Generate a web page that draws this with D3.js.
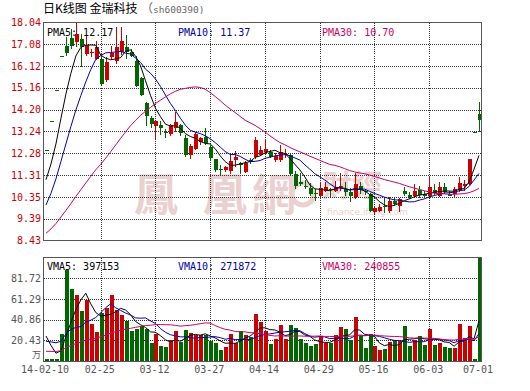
<!DOCTYPE html>
<html><head><meta charset="utf-8">
<script src="https://cdn.jsdelivr.net/npm/d3@7"></script>
<style>body{margin:0;background:#fff}svg{display:block}</style>
</head><body><svg id="c" width="530" height="391"></svg>
<script>
const dates = ["02-10","02-11","02-12","02-13","02-14","02-17","02-18","02-19","02-20","02-21","02-24","02-25","02-26","02-27","02-28","03-03","03-04","03-05","03-06","03-07","03-10","03-11","03-12","03-13","03-14","03-17","03-18","03-19","03-20","03-21","03-24","03-25","03-26","03-27","03-28","03-31","04-01","04-02","04-03","04-04","04-08","04-09","04-10","04-11","04-14","04-15","04-16","04-17","04-18","04-21","04-22","04-23","04-24","04-25","04-28","04-29","04-30","05-05","05-06","05-07","05-08","05-09","05-12","05-13","05-14","05-15","05-16","05-19","05-20","05-21","05-22","05-23","05-26","05-27","05-28","05-29","05-30","06-03","06-04","06-05","06-06","06-09","06-10","06-11","06-12","06-13","06-30","07-01"];
const open  = [12.44,13.68,15.05,16.55,17.02,17.35,17.18,17.30,16.64,16.70,16.42,16.45,15.51,16.50,16.35,16.72,16.94,16.72,16.35,15.60,14.51,13.85,13.47,13.50,13.22,13.13,13.40,13.50,12.95,12.18,12.48,12.76,12.98,12.54,12.03,11.58,11.52,11.50,11.96,11.86,11.47,12.00,12.10,12.20,12.32,12.32,11.96,11.97,12.18,12.18,11.37,11.00,10.85,10.75,10.51,10.41,10.60,10.68,10.60,10.78,10.72,10.57,10.34,10.85,10.62,10.49,9.68,9.75,9.96,9.71,10.19,9.97,10.63,10.44,10.38,10.66,10.50,10.37,10.66,10.40,10.78,10.50,10.49,10.66,10.82,10.93,13.23,14.02];
const high  = [12.44,13.68,15.05,16.55,17.38,17.75,18.04,17.52,17.45,16.86,17.23,16.64,16.50,17.00,17.84,17.84,17.50,16.86,16.56,15.62,14.54,13.90,13.75,13.68,13.35,13.55,14.09,13.55,13.06,12.68,13.20,13.00,13.40,12.65,12.03,11.74,11.70,12.25,12.38,11.90,11.93,12.05,12.99,12.60,12.92,12.40,12.30,12.62,12.45,12.30,11.50,11.40,11.10,10.95,10.70,11.00,11.00,10.75,11.05,11.40,11.00,10.75,11.40,11.00,10.72,10.53,9.95,10.05,10.30,10.33,10.30,10.30,10.78,10.55,10.90,10.85,10.60,11.21,10.90,11.00,10.95,10.62,10.78,11.24,11.10,12.03,13.23,14.53];
const low   = [12.44,13.68,15.05,16.55,16.57,16.85,16.95,16.09,16.57,16.50,16.38,15.25,15.43,16.40,16.20,16.60,16.45,16.50,15.20,14.80,13.49,13.38,12.91,13.09,12.96,13.05,13.20,13.05,12.10,12.03,12.40,12.65,12.65,12.00,11.45,11.33,11.45,11.37,11.66,11.34,11.40,11.80,12.03,12.15,12.25,12.05,11.90,11.87,12.05,11.30,10.70,10.85,10.70,10.40,10.15,10.38,10.55,10.35,10.55,10.60,10.40,10.11,10.26,10.49,10.45,9.67,9.62,9.70,9.65,9.64,9.95,9.69,10.40,10.28,10.33,10.30,10.35,10.30,10.45,10.35,10.50,10.38,10.30,10.55,10.60,10.89,13.23,13.23];
const close = [12.44,13.68,15.05,16.55,16.70,17.00,17.52,16.94,17.04,16.75,16.94,15.32,16.28,16.69,16.94,17.23,16.75,16.57,15.25,14.84,13.93,13.56,13.71,13.40,13.20,13.50,13.64,13.18,12.18,12.58,13.11,12.94,12.74,12.06,11.52,11.56,11.66,11.92,12.10,11.78,11.85,11.88,12.86,12.42,12.48,12.13,12.15,12.33,12.25,11.36,10.85,10.93,10.78,10.49,10.49,10.74,10.78,10.66,10.81,10.85,10.57,10.41,10.93,10.66,10.55,9.75,9.85,9.90,9.94,10.19,10.05,10.26,10.49,10.34,10.63,10.44,10.40,10.78,10.53,10.78,10.57,10.40,10.71,10.98,10.93,12.03,13.23,13.72];
// volume in 万 (10k lots)
const volume = [1.7,1.5,1.5,26.4,89.5,71.4,64.8,49.0,59.9,36.9,28.6,47.7,52.3,64.8,50.0,45.1,39.2,29.3,31.3,34.2,31.3,17.8,27.0,14.8,13.8,20.4,29.3,18.8,30.3,27.6,25.4,25.4,25.4,19.7,18.1,10.6,13.8,26.4,18.1,29.3,25.4,23.7,46.1,38.5,30.0,16.5,22.1,35.2,21.5,35.2,32.6,21.4,17.8,14.8,17.1,24.4,17.8,17.8,25.4,33.6,31.3,20.4,43.4,24.4,12.8,26.4,14.5,10.6,11.5,18.8,20.4,19.7,34.2,14.5,21.1,24.4,15.5,31.3,15.5,18.0,14.0,12.5,13.0,37.0,23.0,34.7,1.7,102.15];
// sessions before the window, only used to start the moving averages
const priorClose = [7.90,7.95,8.00,7.92,7.98,8.05,8.10,8.02,8.08,8.12,8.15,8.10,8.18,8.20,8.25,8.22,8.30,8.28,8.35,8.40,8.50,8.70,8.85,9.00,9.31,10.24,10.60,10.96,11.31];
const priorVolume = [4.2,3.8,4.5,4.0,3.9,4.6,4.1,4.4,5.0,4.3,4.7,4.2,4.9,5.1,4.6,4.8,5.2,4.9,5.3,5.5,8,10,12,18,23.5,48,40,15,18.8];
const priceTicks = ["8.43","9.39","10.35","11.31","12.28","13.24","14.20","15.16","16.12","17.08","18.04"];
const volumeTicks = ["20.43","40.86","61.29","81.72"];
const volumeMax = 102.15;
const xTickIndex = [0,11,22,33,44,55,66,77,87];
const maPeriods = [5,10,30];
const maColors = ["#000000","#0000a8","#cc0066"];
const priceLegend = ["12.17","11.37","10.70"];
const volumeLegend = ["397153","271872","240855"];

const svg = d3.select("#c");
const L=43.5, R=481.5, PT=22.5, PB=240.5, VT=257.5, VB=361;
const N = close.length;
const x = d3.scaleBand().domain(d3.range(N)).range([L, R]);
const cx = i => x(i) + x.bandwidth()/2;
const y = d3.scaleLinear().domain([+priceTicks[0], +priceTicks[priceTicks.length-1]]).range([PB, PT]);
const yv = d3.scaleLinear().domain([0, volumeMax]).range([VB, VT]);
const RED="#cc0000", GREEN="#006600";
const mono = "'DejaVu Sans Mono', monospace";

// watermark
const WM = "#ebd0d0";
const wm = svg.append("g").attr("fill",WM).style("font-family","'Noto Sans CJK TC'").attr("font-weight","bold");
[["鳳",134],["凰",203],["網",252]].forEach(([t,px])=>wm.append("text").attr("x",px).attr("y",211).attr("font-size",44).text(t));
wm.append("circle").attr("cx",303).attr("cy",194).attr("r",11).attr("fill","none").attr("stroke",WM).attr("stroke-width",5);
wm.append("text").attr("x",322).attr("y",196).attr("font-size",30).text("財經");
wm.append("text").attr("x",327).attr("y",215).attr("font-size",9).attr("font-weight","normal").style("font-family","'DejaVu Sans'").text("finance.ifeng.com");

// clip paths
const defs = svg.append("defs");
defs.append("clipPath").attr("id","cp").append("rect").attr("x",L).attr("y",PT).attr("width",R-L).attr("height",PB-PT);
defs.append("clipPath").attr("id","cv").append("rect").attr("x",L).attr("y",VT).attr("width",R-L).attr("height",VB-VT);

// grid
const grid = svg.append("g").attr("stroke","#333").attr("stroke-dasharray","1,1").attr("shape-rendering","crispEdges");
priceTicks.slice(1,-1).forEach(t=>grid.append("line").attr("x1",L).attr("x2",R).attr("y1",Math.round(y(+t))+0.5).attr("y2",Math.round(y(+t))+0.5));
volumeTicks.forEach(t=>grid.append("line").attr("x1",L).attr("x2",R).attr("y1",Math.round(yv(+t))+0.5).attr("y2",Math.round(yv(+t))+0.5));
xTickIndex.slice(1,-1).forEach(i=>{
  const gx = Math.round(cx(i))+0.5;
  grid.append("line").attr("x1",gx).attr("x2",gx).attr("y1",PT).attr("y2",PB);
  grid.append("line").attr("x1",gx).attr("x2",gx).attr("y1",VT).attr("y2",VB);
});

const isUp = i => close[i] > open[i];
const bw = 4;

// candles
const pc = svg.append("g").attr("clip-path","url(#cp)").attr("shape-rendering","crispEdges");
d3.range(N).forEach(i=>{
  const col = isUp(i)?RED:GREEN;
  const c = Math.round(cx(i));
  pc.append("line").attr("x1",c+0.5).attr("x2",c+0.5).attr("y1",y(high[i])).attr("y2",y(low[i])).attr("stroke",col);
  const top = y(Math.max(open[i],close[i])), bot = y(Math.min(open[i],close[i]));
  pc.append("rect").attr("x",c-1.5).attr("width",bw).attr("y",top).attr("height",Math.max(1,bot-top)).attr("fill",col);
});

// volume bars
const vc = svg.append("g").attr("clip-path","url(#cv)").attr("shape-rendering","crispEdges");
d3.range(N).forEach(i=>{
  const c = Math.round(cx(i));
  vc.append("rect").attr("x",c-1.5).attr("width",bw).attr("y",yv(volume[i])).attr("height",VB-yv(volume[i])).attr("fill",isUp(i)?RED:GREEN);
});

// moving averages
function movingAvg(prior, vals, n){
  const all = prior.concat(vals), off = prior.length;
  return d3.range(N).map(i=>d3.mean(all.slice(off+i-n+1, off+i+1)));
}
const line = (sc)=>d3.line().x((d,i)=>cx(i)).y(d=>sc(d));
maPeriods.forEach((n,k)=>{
  svg.append("path").attr("clip-path","url(#cp)").attr("d",line(y)(movingAvg(priorClose,close,n)))
    .attr("fill","none").attr("stroke",maColors[k]).attr("stroke-width",1);
  svg.append("path").attr("clip-path","url(#cv)").attr("d",line(yv)(movingAvg(priorVolume,volume,n)))
    .attr("fill","none").attr("stroke",maColors[k]).attr("stroke-width",1);
});

// borders
[[PT,PB],[VT,VB]].forEach(([a,b])=>svg.append("rect").attr("x",L).attr("y",a).attr("width",R-L).attr("height",b-a)
  .attr("fill","none").attr("stroke","#555").attr("shape-rendering","crispEdges"));

// axis labels
const tx = svg.append("g").style("font-family",mono).attr("font-size",10);
priceTicks.forEach(t=>tx.append("text").attr("x",41).attr("y",y(+t)).attr("dy","0.36em").attr("text-anchor","end").attr("fill","#cc0000").text(t));
volumeTicks.forEach(t=>tx.append("text").attr("x",41).attr("y",yv(+t)).attr("dy","0.36em").attr("text-anchor","end").attr("fill","#555").text(t));
tx.append("text").attr("x",41).attr("y",357.5).attr("text-anchor","end").attr("fill","#555").style("font-family","'Noto Sans CJK SC'").attr("font-size",9).text("万");
xTickIndex.forEach((i,k)=>tx.append("text").attr("x",cx(i)-1).attr("y",373).attr("text-anchor","middle").attr("fill","#555")
  .text(k===0 ? "14-"+dates[i] : dates[i]));

// legends
const legX = [47,178,322];
maPeriods.forEach((n,k)=>{
  tx.append("text").attr("x",legX[k]).attr("y",36).attr("fill",maColors[k]).text(`PMA${n}: ${priceLegend[k]}`);
  tx.append("text").attr("x",legX[k]).attr("y",270).attr("fill",maColors[k]).text(`VMA${n}: ${volumeLegend[k]}`);
});

// title
svg.append("text").attr("x",43).attr("y",13).attr("font-size",12).style("font-family","'Noto Sans CJK SC'").attr("fill","#000").text("日K线图 金瑞科技");
const t2 = svg.append("text").attr("x",141).attr("y",13).attr("fill","#666");
t2.append("tspan").attr("font-size",12).style("font-family","'Noto Sans CJK SC'").text("（");
t2.append("tspan").attr("font-size",9.5).style("font-family",mono).text("sh600390)");
</script></body></html>
